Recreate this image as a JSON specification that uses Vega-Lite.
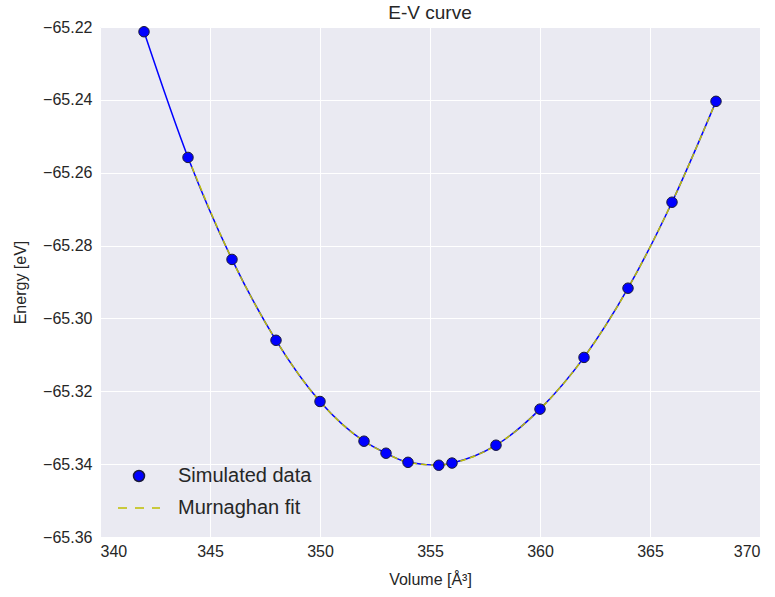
{
  "$schema": "https://vega.github.io/schema/vega-lite/v6.json",
  "width": 660,
  "height": 510,
  "autosize": {"type": "none"},
  "padding": {"left": 100, "top": 27, "right": 15, "bottom": 60},
  "background": "white",
  "title": {"text": "E-V curve", "fontSize": 19, "font": "Liberation Sans", "fontWeight": "normal", "color": "#262626", "offset": 0, "dy": 4},
  "config": {
    "view": {"fill": "#EAEAF2", "stroke": null},
    "axis": {
      "domain": false, "ticks": false, "grid": true, "gridColor": "white", "gridWidth": 1,
      "labelFont": "Liberation Sans", "labelFontSize": 16, "labelColor": "#262626",
      "titleFont": "Liberation Sans", "titleFontSize": 16, "titleColor": "#262626", "titleFontWeight": "normal"
    }
  },
  "data": {"values": [
    {"volume": 342, "energy": -65.2213},
    {"volume": 344, "energy": -65.2558},
    {"volume": 346, "energy": -65.2838},
    {"volume": 348, "energy": -65.3060},
    {"volume": 350, "energy": -65.3228},
    {"volume": 352, "energy": -65.3337},
    {"volume": 353, "energy": -65.3370},
    {"volume": 354, "energy": -65.3395},
    {"volume": 355.4, "energy": -65.3403},
    {"volume": 356, "energy": -65.3397},
    {"volume": 358, "energy": -65.3348},
    {"volume": 360, "energy": -65.3249},
    {"volume": 362, "energy": -65.3107},
    {"volume": 364, "energy": -65.2917},
    {"volume": 366, "energy": -65.2681},
    {"volume": 368, "energy": -65.2404}
  ]},
  "encoding": {
    "x": {"field": "volume", "type": "quantitative",
      "scale": {"domain": [340, 370], "nice": false, "zero": false},
      "axis": {"values": [340, 345, 350, 355, 360, 365, 370], "title": "Volume [Å³]", "labelPadding": 6, "titlePadding": 12}},
    "y": {"field": "energy", "type": "quantitative",
      "scale": {"domain": [-65.36, -65.22], "nice": false, "zero": false},
      "axis": {"values": [-65.36, -65.34, -65.32, -65.30, -65.28, -65.26, -65.24, -65.22], "format": ".2f", "title": "Energy [eV]", "labelPadding": 8, "titlePadding": 14}}
  },
  "layer": [
    {"mark": {"type": "line", "color": "#0000ff", "strokeWidth": 1.5, "interpolate": "monotone"}},
    {"transform": [{"filter": "datum.volume >= 344"}],
     "mark": {"type": "line", "color": "#bfbf00", "strokeDash": [6, 4], "strokeWidth": 1.5, "interpolate": "monotone"}},
    {"transform": [{"calculate": "'Simulated data'", "as": "series"}],
     "mark": {"type": "point", "filled": true, "size": 110, "opacity": 1},
     "encoding": {
       "color": {"field": "series", "type": "nominal", "scale": {"domain": ["Simulated data", "Murnaghan fit"], "range": ["#0000ff", "#bfbf00"]},
         "legend": {
           "title": null, "orient": "none", "legendX": 29, "legendY": 439,
           "labelFont": "Liberation Sans", "labelFontSize": 20, "labelColor": "#262626",
           "symbolSize": 121, "rowPadding": 12, "labelOffset": 29,
           "symbolType": {"expr": "datum.value === 'Murnaghan fit' ? 'M-3.82,0H-2.18M-0.73,0H0.91M2.36,0H3.82' : 'circle'"},
           "symbolStrokeColor": {"expr": "datum.value === 'Murnaghan fit' ? '#bfbf00' : '#1a1a3a'"},
           "symbolStrokeWidth": 1.5,
           "symbolOpacity": 1
         }}
     }},
    {"mark": {"type": "point", "filled": false, "size": 110, "stroke": "#1a1a3a", "strokeWidth": 1, "opacity": 1}}
  ]
}
